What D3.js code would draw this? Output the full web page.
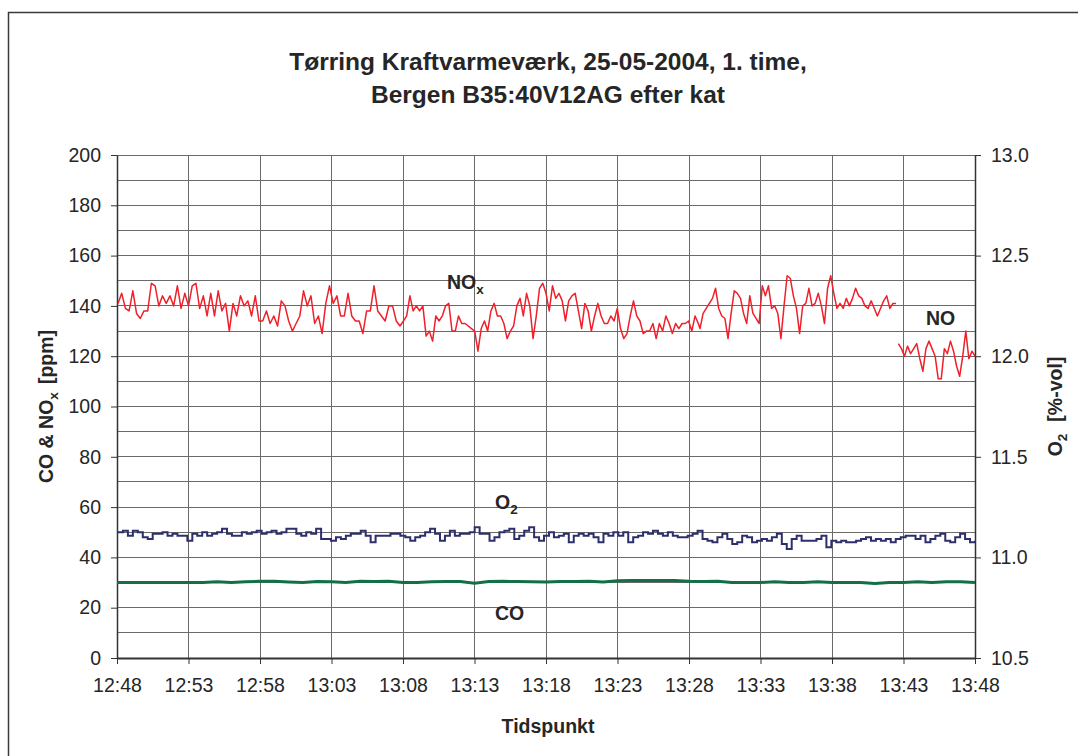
<!DOCTYPE html>
<html>
<head>
<meta charset="utf-8">
<script src="https://cdn.jsdelivr.net/npm/d3@7"></script>
<style>
  html, body { margin: 0; padding: 0; background: #fff; }
  svg { display: block; }
  text { font-family: "Liberation Sans", Arial, sans-serif; fill: #262626; }
</style>
</head>
<body>
<svg id="chart" width="1078" height="756"></svg>
<script>
// ---------------- DATA ----------------
const titleLines = ["Tørring Kraftvarmeværk, 25-05-2004, 1. time,", "Bergen B35:40V12AG efter kat"];
const xTickLabels = ["12:48","12:53","12:58","13:03","13:08","13:13","13:18","13:23","13:28","13:33","13:38","13:43","13:48"];
const yLeftTicks = [0,20,40,60,80,100,120,140,160,180,200];
const yRightTicks = [10.5,11.0,11.5,12.0,12.5,13.0];

// NOx [ppm], three consecutive recordings (minutes after 12:48 given in noxSpans)
const noxA = [141,145,139,138,146,137,135,138,138,149,148,140,144,141,144,140,148,139,145,140,148,149,139,144,136,145,136,146,138,141,130,141,136,144,140,142,136,144,134,134,138,133,136,132,142,140,134,130,133,136,146,140,144,133,136,129,141,148,141,144,136,136,145,136,134,134,129,138,138,148,138,136,134,140,140,134,132];
const noxB = [134,136,144,138,140,138,140,128,130,126,136,134,136,140,141,130,130,136,133,133,132,131,130,122,131,134,130,138,141,136,136,133,127,130,132,140,143,136,145,140,127,136,147,149,145,138,148,143,145,142,134,142,144,145,138,131,141,138,130,136,141,136,133,133,136,134,139,131,127,129,136,142,136,134,129,130,130,133,127,133,130,136,133,129,133,131,133,133,134,130,136,133];
const noxC = [131,137,139,141,143,147,139,136,135,127,137,146,145,143,137,133,144,137,135,133,148,144,148,139,140,137,127,140,152,151,144,139,129,140,141,147,140,141,145,140,133,147,152,145,139,141,139,143,140,143,147,144,143,140,139,142,139,136,139,142,144,139,141,141];
const noxSpans = [[0.07, 19.79], [20.03, 40.65], [40.77, 54.48]];
// NO [ppm]
const noValues = [125,123,120,124,121,123,125,119,114,123,126,123,120,111,111,123,121,126,122,116,112,120,130,119,122,120];
const noSpan = [54.64, 60];
// O2 [%-vol]
const o2Values = [11.125,11.133,11.108,11.133,11.125,11.100,11.092,11.117,11.117,11.125,11.108,11.117,11.108,11.108,11.083,11.117,11.108,11.125,11.108,11.117,11.125,11.142,11.117,11.108,11.108,11.125,11.117,11.125,11.133,11.117,11.125,11.133,11.117,11.125,11.142,11.142,11.117,11.108,11.125,11.117,11.142,11.092,11.092,11.083,11.100,11.092,11.108,11.117,11.117,11.133,11.108,11.075,11.108,11.108,11.108,11.117,11.117,11.108,11.100,11.083,11.100,11.108,11.125,11.142,11.117,11.083,11.108,11.133,11.108,11.117,11.117,11.125,11.150,11.117,11.117,11.083,11.100,11.125,11.133,11.142,11.092,11.108,11.133,11.150,11.100,11.083,11.108,
  11.125,11.100,11.108,11.117,11.075,11.108,11.117,11.108,11.117,11.100,11.075,11.117,11.108,11.125,11.108,11.125,11.075,11.100,11.108,11.125,11.117,11.133,11.117,11.108,11.125,11.108,11.100,11.100,11.108,11.117,11.133,11.092,11.083,11.075,11.100,11.117,11.092,11.067,11.075,11.108,11.100,11.075,11.083,11.092,11.083,11.100,11.117,11.067,11.042,11.092,11.108,11.083,11.083,11.083,11.092,11.108,11.050,11.083,11.075,11.083,11.075,11.075,11.083,11.092,11.100,11.083,11.092,11.083,11.092,11.075,11.092,11.100,11.108,11.108,11.092,11.108,11.075,11.092,11.108,11.117,11.083,11.075,11.100,11.117,11.092,11.075,11.083];
const o2Span = [0.07, 60];
// CO [ppm], one value per minute
const coValues = [30,30,30,30,30,30,30,30.3,30,30.3,30.5,30.5,30.2,30,30.4,30.3,30,30.5,30.4,30.5,30,30,30.3,30.4,30.4,29.7,30.4,30.5,30.4,30.3,30.2,30.4,30.4,30.5,30.2,30.7,30.8,30.8,30.8,30.8,30.5,30.4,30.5,30,30,30,30.3,30,30,30.3,30,30,30,29.6,30,30,30.3,30,30.3,30.3,30];
const coSpan = [0, 60];

// ---------------- CHART ----------------
const svg = d3.select("#chart");
const parseT = d3.timeParse("%H:%M");
const t0 = parseT("12:48"), t1 = parseT("13:48");
const L = 117, R = 975, T = 155, B = 658;

const x = d3.scaleTime().domain([t0, t1]).range([L, R]);
const yL = d3.scaleLinear().domain([0, 200]).range([B, T]);
const yR = d3.scaleLinear().domain([10.5, 13.0]).range([B, T]);

function series(values, span) {
  const n = values.length;
  return values.map((v, i) => ({
    t: d3.timeMillisecond.offset(t0, (span[0] + i * (span[1] - span[0]) / (n - 1)) * 60000),
    v
  }));
}

// outer frame
svg.append("rect").attr("x", 8.5).attr("y", 12.5).attr("width", 1100).attr("height", 800)
  .attr("fill", "none").attr("stroke", "#3a3a3a").attr("stroke-width", 1.5);

// title
svg.append("g").selectAll("text").data(titleLines).join("text")
  .attr("x", 548).attr("y", (d, i) => 70 + i * 33)
  .attr("text-anchor", "middle").attr("font-size", 24.5).attr("font-weight", "bold")
  .text(d => d);

// grid
const grid = svg.append("g").attr("shape-rendering", "crispEdges");
grid.selectAll("line.h").data(d3.range(0, 201, 10)).join("line")
  .attr("x1", L).attr("x2", R).attr("y1", d => yL(d)).attr("y2", d => yL(d))
  .attr("stroke", "#6a6a6a").attr("stroke-width", 1);
const xTicks = xTickLabels.map(parseT);
grid.selectAll("line.v").data(xTicks).join("line")
  .attr("x1", d => x(d)).attr("x2", d => x(d)).attr("y1", T).attr("y2", B)
  .attr("stroke", "#6a6a6a").attr("stroke-width", 1);

// axes
const axL = d3.axisLeft(yL).tickValues(yLeftTicks).tickSize(6).tickPadding(10).tickFormat(d3.format("d"));
const axR = d3.axisRight(yR).tickValues(yRightTicks).tickSize(6).tickPadding(10).tickFormat(d3.format(".1f"));
const axB = d3.axisBottom(x).tickValues(xTicks).tickSize(6).tickPadding(14).tickFormat(d3.timeFormat("%H:%M"));

function styleAxis(g, w) {
  g.selectAll(".domain").attr("stroke", "#333").attr("stroke-width", w);
  g.selectAll(".tick line").attr("stroke", "#333").attr("stroke-width", 1);
  g.selectAll(".tick text").attr("font-size", 19.5).attr("fill", "#2a2a2a")
    .attr("font-family", '"Liberation Sans", Arial, sans-serif');
}
svg.append("g").attr("transform", `translate(${L},0)`).call(axL.tickSizeOuter(0)).call(g => styleAxis(g, 1.5));
svg.append("g").attr("transform", `translate(${R},0)`).call(axR.tickSizeOuter(0)).call(g => styleAxis(g, 1.5));
svg.append("g").attr("transform", `translate(0,${B})`).call(axB.tickSizeOuter(0)).call(g => styleAxis(g, 2));

// lines
const lineCO = d3.line().x(d => x(d.t)).y(d => yL(d.v)).curve(d3.curveLinear);
const lineNOx = d3.line().x(d => x(d.t)).y(d => yL(d.v)).curve(d3.curveLinear);
const lineO2 = d3.line().x(d => x(d.t)).y(d => yR(d.v)).curve(d3.curveStepAfter);

svg.append("path").datum(series(coValues, coSpan)).attr("d", lineCO)
  .attr("fill", "none").attr("stroke", "#137046").attr("stroke-width", 3);
svg.append("path").datum(series(o2Values, o2Span)).attr("d", lineO2)
  .attr("fill", "none").attr("stroke", "#2c2f6b").attr("stroke-width", 2);

// NOx recordings joined into one trace, NO as separate trace
const noxPts = series(noxA, noxSpans[0]).concat(series(noxB, noxSpans[1]), series(noxC, noxSpans[2]));
svg.append("path").datum(noxPts).attr("d", lineNOx)
  .attr("fill", "none").attr("stroke", "#f0202a").attr("stroke-width", 1.5).attr("stroke-linejoin", "round");
svg.append("path").datum(series(noValues, noSpan)).attr("d", lineNOx)
  .attr("fill", "none").attr("stroke", "#f0202a").attr("stroke-width", 1.5).attr("stroke-linejoin", "round");

// series labels
function label(xp, yp, main, sub) {
  const t = svg.append("text").attr("x", xp).attr("y", yp).attr("font-size", 19.5).attr("font-weight", "bold").text(main);
  if (sub) t.append("tspan").attr("font-size", 13.5).attr("dy", 5).text(sub);
}
label(447, 289, "NO", "x");
label(926, 325, "NO");
label(495, 509, "O", "2");
label(495, 620, "CO");

// axis titles
svg.append("text").attr("x", 548).attr("y", 733).attr("text-anchor", "middle")
  .attr("font-size", 19.5).attr("font-weight", "bold").text("Tidspunkt");

const lt = svg.append("text").attr("transform", `translate(53,${(T + B) / 2}) rotate(-90)`)
  .attr("text-anchor", "middle").attr("font-size", 19.5).attr("font-weight", "bold");
lt.append("tspan").text("CO & NO");
lt.append("tspan").attr("font-size", 13.5).attr("dy", 5).text("x");
lt.append("tspan").attr("dy", -5).attr("dx", 8).text("[ppm]");

const rt = svg.append("text").attr("transform", `translate(1062,${(T + B) / 2}) rotate(-90)`)
  .attr("text-anchor", "middle").attr("font-size", 19.5).attr("font-weight", "bold");
rt.append("tspan").text("O");
rt.append("tspan").attr("font-size", 13.5).attr("dy", 5).text("2");
rt.append("tspan").attr("dy", -5).attr("dx", 12).text("[%-vol]");
</script>
</body>
</html>
